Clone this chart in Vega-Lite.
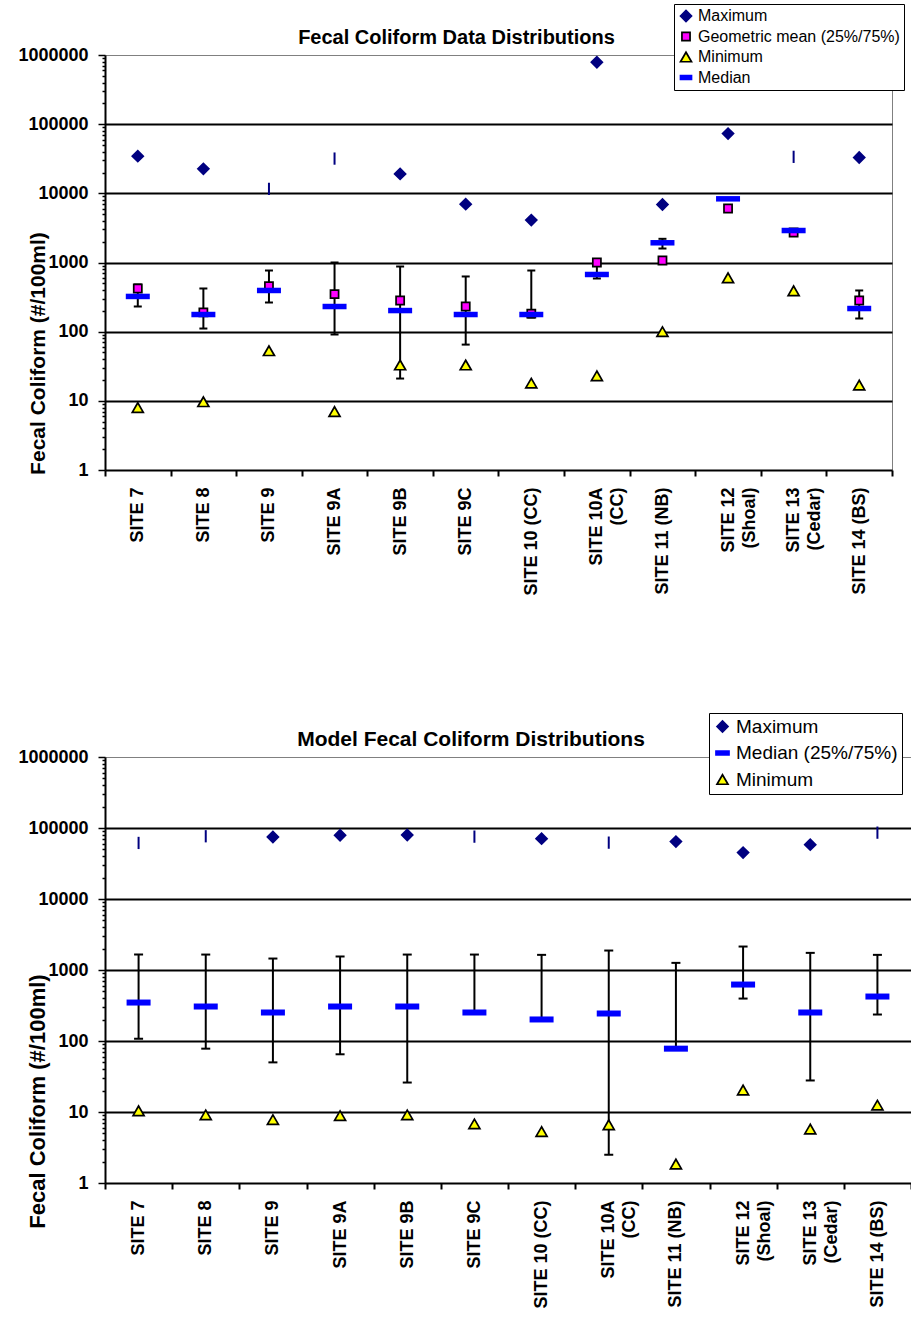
{
  "$schema": "https://vega.github.io/schema/vega-lite/v6.json",
  "padding": {"left": 17, "top": 3, "right": 0, "bottom": 0},
  "bounds": "flush",
  "spacing": 287,
  "background": "white",
  "config": {
    "view": {"stroke": "#808080", "strokeWidth": 1},
    "axis": {"domainColor": "black", "tickColor": "black", "labelColor": "black", "titleColor": "black", "labelFont": "Liberation Sans", "titleFont": "Liberation Sans", "labelFontWeight": "bold", "titleFontWeight": "bold"},
    "title": {"font": "Liberation Sans", "fontWeight": "bold", "color": "black"},
    "legend": {"labelFont": "Liberation Sans", "labelColor": "black", "labelLimit": 400}
  },
  "resolve": {
    "scale": {"x": "independent", "y": "independent", "fill": "independent", "shape": "independent", "stroke": "independent", "size": "independent"},
    "legend": {"fill": "independent", "shape": "independent", "stroke": "independent", "size": "independent"}
  },
  "datasets": {
    "observed": [
      {"site": "SITE 7", "max": 34500, "geomean": 421, "median": 323, "min": 8.0, "p25": 231, "p75": 480},
      {"site": "SITE 8", "max": 22600, "geomean": 190, "median": 177, "min": 9.7, "p25": 111, "p75": 421},
      {"site": "SITE 9", "max": 11600, "geomean": 456, "median": 394, "min": 53, "p25": 264, "p75": 766},
      {"site": "SITE 9A", "max": 31800, "geomean": 349, "median": 231, "min": 7.0, "p25": 91, "p75": 1000},
      {"site": "SITE 9B", "max": 19100, "geomean": 282, "median": 202, "min": 33, "p25": 21, "p75": 875},
      {"site": "SITE 9C", "max": 6980, "geomean": 231, "median": 177, "min": 33, "p25": 65, "p75": 628},
      {"site": "SITE 10 (CC)", "max": 4100, "geomean": 182, "median": 177, "min": 18, "p25": 160, "p75": 766},
      {"site": "SITE 10A (CC)", "max": 787000, "geomean": 1000, "median": 671, "min": 23, "p25": 587, "p75": 1000},
      {"site": "SITE 11 (NB)", "max": 6890, "geomean": 1069, "median": 1928, "min": 100, "p25": 1593, "p75": 2200},
      {"site": "SITE 12 (Shoal)", "max": 73100, "geomean": 6040, "median": 8330, "min": 601, "p25": null, "p75": null},
      {"site": "SITE 13 (Cedar)", "max": 33700, "geomean": 2715, "median": 2900, "min": 390, "p25": null, "p75": null},
      {"site": "SITE 14 (BS)", "max": 32900, "geomean": 282, "median": 216, "min": 16.9, "p25": 155, "p75": 394}
    ],
    "model": [
      {"site": "SITE 7", "max": 61600, "median": 348, "min": 10.4, "p25": 108, "p75": 1650},
      {"site": "SITE 8", "max": 76500, "median": 306, "min": 9.1, "p25": 78, "p75": 1650},
      {"site": "SITE 9", "max": 74800, "median": 252, "min": 7.8, "p25": 50, "p75": 1450},
      {"site": "SITE 9A", "max": 79000, "median": 306, "min": 8.9, "p25": 65, "p75": 1550},
      {"site": "SITE 9B", "max": 79800, "median": 306, "min": 9.1, "p25": 26, "p75": 1650},
      {"site": "SITE 9C", "max": 75600, "median": 252, "min": 6.8, "p25": 252, "p75": 1650},
      {"site": "SITE 10 (CC)", "max": 70800, "median": 201, "min": 5.3, "p25": 201, "p75": 1634},
      {"site": "SITE 10A (CC)", "max": 62200, "median": 244, "min": 6.6, "p25": 2.5, "p75": 1880},
      {"site": "SITE 11 (NB)", "max": 64300, "median": 78, "min": 1.85, "p25": 78, "p75": 1260},
      {"site": "SITE 12 (Shoal)", "max": 45000, "median": 624, "min": 20.4, "p25": 396, "p75": 2140},
      {"site": "SITE 13 (Cedar)", "max": 58300, "median": 252, "min": 5.75, "p25": 27.8, "p75": 1743},
      {"site": "SITE 14 (BS)", "max": 86000, "median": 423, "min": 12.5, "p25": 236, "p75": 1634}
    ]
  },
  "vconcat": [
    {
      "width": 787,
      "height": 415,
      "title": {"text": "Fecal Coliform Data Distributions", "fontSize": 20, "offset": 6, "dx": -42, "dy": 50, "anchor": "middle"},
      "data": {"name": "observed"},
      "encoding": {
        "x": {"field": "site", "type": "nominal", "sort": null,
          "scale": {"domain": ["SITE 7", "SITE 8", "SITE 9", "SITE 9A", "SITE 9B", "SITE 9C", "SITE 10 (CC)", "SITE 10A (CC)", "SITE 11 (NB)", "SITE 12 (Shoal)", "SITE 13 (Cedar)", "SITE 14 (BS)"], "paddingInner": 0, "paddingOuter": 0},
          "axis": {"title": null, "labelAngle": -90, "labelAlign": "right", "labelBaseline": "middle", "tickBand": "extent", "tickSize": 6, "tickWidth": 2, "domainWidth": 2, "labelFontSize": 18, "labelPadding": 11, "labelLineHeight": 21, "grid": false,
            "labelExpr": "indexof(['SITE 10A (CC)','SITE 12 (Shoal)','SITE 13 (Cedar)'], datum.label) >= 0 ? [slice(datum.label, 0, indexof(datum.label, ' (')), slice(datum.label, indexof(datum.label, ' (') + 1)] : datum.label"}
        }
      },
      "layer": [
        {
          "transform": [{"filter": "isValid(datum.p25)"}],
          "mark": {"type": "rule", "color": "black", "strokeWidth": 2},
          "encoding": {
            "y": {"field": "p25", "type": "quantitative", "scale": {"type": "log", "domain": [1, 1000000], "nice": false},
              "axis": {"title": "Fecal Coliform (#/100ml)", "titleFontSize": 21, "titleAngle": -90, "titleX": -61, "titleY": 298, "titleAlign": "center", "titleBaseline": "alphabetic",
                "values": [1,2,3,4,5,6,7,8,9,10,20,30,40,50,60,70,80,90,100,200,300,400,500,600,700,800,900,1000,2000,3000,4000,5000,6000,7000,8000,9000,10000,20000,30000,40000,50000,60000,70000,80000,90000,100000,200000,300000,400000,500000,600000,700000,800000,900000,1000000],
                "labelExpr": "indexof([1,10,100,1000,10000,100000,1000000], datum.value) >= 0 ? format(datum.value, 'd') : ''",
                "labelFontSize": 18, "labelPadding": 10, "domainWidth": 2,
                "tickSize": {"condition": {"test": "indexof([1,10,100,1000,10000,100000,1000000], datum.value) >= 0", "value": 7}, "value": 3},
                "tickWidth": 1.5,
                "grid": true, "gridColor": "black", "gridWidth": 2,
                "gridOpacity": {"condition": {"test": "indexof([10,100,1000,10000,100000], datum.value) >= 0", "value": 1}, "value": 0}}},
            "y2": {"field": "p75"}
          }
        },
        {
          "transform": [{"filter": "isValid(datum.p25)"}],
          "mark": {"type": "tick", "color": "black", "size": 8, "thickness": 2, "opacity": 1},
          "encoding": {"y": {"field": "p25", "type": "quantitative", "scale": {"type": "log", "domain": [1, 1000000], "nice": false}}}
        },
        {
          "transform": [{"filter": "isValid(datum.p75)"}],
          "mark": {"type": "tick", "color": "black", "size": 8, "thickness": 2, "opacity": 1},
          "encoding": {"y": {"field": "p75", "type": "quantitative", "scale": {"type": "log", "domain": [1, 1000000], "nice": false}}}
        },
        {
          "transform": [
            {"fold": ["max", "geomean", "min"], "as": ["series", "value"]},
            {"filter": "!(datum.series == 'max' && indexof(['SITE 9','SITE 9A','SITE 13 (Cedar)'], datum.site) >= 0)"}
          ],
          "mark": {"type": "point", "filled": true, "strokeWidth": 1.7, "opacity": 1},
          "encoding": {
            "y": {"field": "value", "type": "quantitative", "scale": {"type": "log", "domain": [1, 1000000], "nice": false}},
            "fill": {"field": "series", "type": "nominal", "scale": {"domain": ["max", "geomean", "min", "median"], "range": ["#000080", "#FF00FF", "#FFFF00", "#0000FF"]},
              "legend": {"title": null, "orient": "none", "legendX": 569, "legendY": -51, "direction": "vertical", "labelFontSize": 16, "padding": 4, "rowPadding": 3.5, "labelOffset": 4, "strokeColor": "black", "fillColor": "white", "symbolStrokeWidth": 1.7,
                "labelExpr": "datum.label == 'max' ? 'Maximum' : datum.label == 'geomean' ? 'Geometric mean (25%/75%)' : datum.label == 'min' ? 'Minimum' : 'Median'"}},
            "shape": {"field": "series", "type": "nominal", "scale": {"domain": ["max", "geomean", "min", "median"], "range": ["diamond", "square", "triangle-up", "M-1,-0.35H1V0.35H-1Z"]},
              "legend": {"title": null, "orient": "none", "legendX": 569, "legendY": -51, "direction": "vertical", "labelFontSize": 16, "padding": 4, "rowPadding": 3.5, "labelOffset": 4, "strokeColor": "black", "fillColor": "white", "symbolStrokeWidth": 1.7,
                "labelExpr": "datum.label == 'max' ? 'Maximum' : datum.label == 'geomean' ? 'Geometric mean (25%/75%)' : datum.label == 'min' ? 'Minimum' : 'Median'"}},
            "stroke": {"field": "series", "type": "nominal", "scale": {"domain": ["max", "geomean", "min", "median"], "range": ["#000080", "black", "black", "#0000FF"]},
              "legend": {"title": null, "orient": "none", "legendX": 569, "legendY": -51, "direction": "vertical", "labelFontSize": 16, "padding": 4, "rowPadding": 3.5, "labelOffset": 4, "strokeColor": "black", "fillColor": "white", "symbolStrokeWidth": 1.7,
                "labelExpr": "datum.label == 'max' ? 'Maximum' : datum.label == 'geomean' ? 'Geometric mean (25%/75%)' : datum.label == 'min' ? 'Minimum' : 'Median'"}},
            "size": {"field": "series", "type": "nominal", "scale": {"type": "ordinal", "domain": ["max", "geomean", "min", "median"], "range": [121, 66, 121, 121]},
              "legend": {"title": null, "orient": "none", "legendX": 569, "legendY": -51, "direction": "vertical", "labelFontSize": 16, "padding": 4, "rowPadding": 3.5, "labelOffset": 4, "strokeColor": "black", "fillColor": "white", "symbolStrokeWidth": 1.7,
                "labelExpr": "datum.label == 'max' ? 'Maximum' : datum.label == 'geomean' ? 'Geometric mean (25%/75%)' : datum.label == 'min' ? 'Minimum' : 'Median'"}}
          }
        },
        {
          "transform": [{"filter": "indexof(['SITE 9','SITE 9A','SITE 13 (Cedar)'], datum.site) >= 0"}],
          "mark": {"type": "point", "shape": "stroke", "angle": 90, "size": 150, "filled": false, "color": "#000080", "strokeWidth": 2, "opacity": 1},
          "encoding": {"y": {"field": "max", "type": "quantitative", "scale": {"type": "log", "domain": [1, 1000000], "nice": false}}}
        },
        {
          "transform": [{"fold": ["median"], "as": ["series", "value"]}],
          "mark": {"type": "tick", "size": 24, "thickness": 5.5, "opacity": 1},
          "encoding": {
            "y": {"field": "value", "type": "quantitative", "scale": {"type": "log", "domain": [1, 1000000], "nice": false}},
            "fill": {"field": "series", "type": "nominal", "scale": {"domain": ["max", "geomean", "min", "median"], "range": ["#000080", "#FF00FF", "#FFFF00", "#0000FF"]},
              "legend": {"title": null, "orient": "none", "legendX": 569, "legendY": -51, "direction": "vertical", "labelFontSize": 16, "padding": 4, "rowPadding": 3.5, "labelOffset": 4, "strokeColor": "black", "fillColor": "white", "symbolStrokeWidth": 1.7,
                "labelExpr": "datum.label == 'max' ? 'Maximum' : datum.label == 'geomean' ? 'Geometric mean (25%/75%)' : datum.label == 'min' ? 'Minimum' : 'Median'"}}
          }
        }
      ]
    },
    {
      "width": 806,
      "height": 426,
      "title": {"text": "Model Fecal Coliform Distributions", "fontSize": 21, "offset": 6, "dx": -37, "dy": 43, "anchor": "middle"},
      "data": {"name": "model"},
      "encoding": {
        "x": {"field": "site", "type": "nominal", "sort": null,
          "scale": {"domain": ["SITE 7", "SITE 8", "SITE 9", "SITE 9A", "SITE 9B", "SITE 9C", "SITE 10 (CC)", "SITE 10A (CC)", "SITE 11 (NB)", "SITE 12 (Shoal)", "SITE 13 (Cedar)", "SITE 14 (BS)"], "paddingInner": 0, "paddingOuter": 0},
          "axis": {"title": null, "labelAngle": -90, "labelAlign": "right", "labelBaseline": "middle", "tickBand": "extent", "tickSize": 6, "tickWidth": 2, "domainWidth": 2, "labelFontSize": 18, "labelPadding": 11, "labelLineHeight": 21, "grid": false,
            "labelExpr": "indexof(['SITE 10A (CC)','SITE 12 (Shoal)','SITE 13 (Cedar)'], datum.label) >= 0 ? [slice(datum.label, 0, indexof(datum.label, ' (')), slice(datum.label, indexof(datum.label, ' (') + 1)] : datum.label"}
        }
      },
      "layer": [
        {
          "mark": {"type": "rule", "color": "black", "strokeWidth": 2},
          "encoding": {
            "y": {"field": "p25", "type": "quantitative", "scale": {"type": "log", "domain": [1, 1000000], "nice": false},
              "axis": {"title": "Fecal Coliform (#/100ml)", "titleFontSize": 22, "titleAngle": -90, "titleX": -61, "titleY": 344, "titleAlign": "center", "titleBaseline": "alphabetic",
                "values": [1,2,3,4,5,6,7,8,9,10,20,30,40,50,60,70,80,90,100,200,300,400,500,600,700,800,900,1000,2000,3000,4000,5000,6000,7000,8000,9000,10000,20000,30000,40000,50000,60000,70000,80000,90000,100000,200000,300000,400000,500000,600000,700000,800000,900000,1000000],
                "labelExpr": "indexof([1,10,100,1000,10000,100000,1000000], datum.value) >= 0 ? format(datum.value, 'd') : ''",
                "labelFontSize": 18, "labelPadding": 10, "domainWidth": 2,
                "tickSize": {"condition": {"test": "indexof([1,10,100,1000,10000,100000,1000000], datum.value) >= 0", "value": 7}, "value": 3},
                "tickWidth": 1.5,
                "grid": true, "gridColor": "black", "gridWidth": 2,
                "gridOpacity": {"condition": {"test": "indexof([10,100,1000,10000,100000], datum.value) >= 0", "value": 1}, "value": 0}}},
            "y2": {"field": "p75"}
          }
        },
        {
          "mark": {"type": "tick", "color": "black", "size": 9, "thickness": 2, "opacity": 1},
          "encoding": {"y": {"field": "p25", "type": "quantitative", "scale": {"type": "log", "domain": [1, 1000000], "nice": false}}}
        },
        {
          "mark": {"type": "tick", "color": "black", "size": 9, "thickness": 2, "opacity": 1},
          "encoding": {"y": {"field": "p75", "type": "quantitative", "scale": {"type": "log", "domain": [1, 1000000], "nice": false}}}
        },
        {
          "transform": [
            {"fold": ["max", "min"], "as": ["series", "value"]},
            {"filter": "!(datum.series == 'max' && indexof(['SITE 7','SITE 8','SITE 9C','SITE 10A (CC)','SITE 14 (BS)'], datum.site) >= 0)"}
          ],
          "mark": {"type": "point", "filled": true, "strokeWidth": 1.7, "opacity": 1},
          "encoding": {
            "y": {"field": "value", "type": "quantitative", "scale": {"type": "log", "domain": [1, 1000000], "nice": false}},
            "fill": {"field": "series", "type": "nominal", "scale": {"domain": ["max", "median", "min"], "range": ["#000080", "#0000FF", "#FFFF00"]},
              "legend": {"title": null, "orient": "none", "legendX": 604, "legendY": -44, "direction": "vertical", "labelFontSize": 19, "padding": 4, "rowPadding": 6.5, "labelOffset": 4, "strokeColor": "black", "fillColor": "white", "symbolStrokeWidth": 1.7,
                "labelExpr": "datum.label == 'max' ? 'Maximum' : datum.label == 'median' ? 'Median (25%/75%)' : 'Minimum'"}},
            "shape": {"field": "series", "type": "nominal", "scale": {"domain": ["max", "median", "min"], "range": ["diamond", "M-1,-0.3H1V0.3H-1Z", "triangle-up"]},
              "legend": {"title": null, "orient": "none", "legendX": 604, "legendY": -44, "direction": "vertical", "labelFontSize": 19, "padding": 4, "rowPadding": 6.5, "labelOffset": 4, "strokeColor": "black", "fillColor": "white", "symbolStrokeWidth": 1.7,
                "labelExpr": "datum.label == 'max' ? 'Maximum' : datum.label == 'median' ? 'Median (25%/75%)' : 'Minimum'"}},
            "stroke": {"field": "series", "type": "nominal", "scale": {"domain": ["max", "median", "min"], "range": ["#000080", "#0000FF", "black"]},
              "legend": {"title": null, "orient": "none", "legendX": 604, "legendY": -44, "direction": "vertical", "labelFontSize": 19, "padding": 4, "rowPadding": 6.5, "labelOffset": 4, "strokeColor": "black", "fillColor": "white", "symbolStrokeWidth": 1.7,
                "labelExpr": "datum.label == 'max' ? 'Maximum' : datum.label == 'median' ? 'Median (25%/75%)' : 'Minimum'"}},
            "size": {"field": "series", "type": "nominal", "scale": {"type": "ordinal", "domain": ["max", "median", "min"], "range": [121, 169, 121]},
              "legend": {"title": null, "orient": "none", "legendX": 604, "legendY": -44, "direction": "vertical", "labelFontSize": 19, "padding": 4, "rowPadding": 6.5, "labelOffset": 4, "strokeColor": "black", "fillColor": "white", "symbolStrokeWidth": 1.7,
                "labelExpr": "datum.label == 'max' ? 'Maximum' : datum.label == 'median' ? 'Median (25%/75%)' : 'Minimum'"}}
          }
        },
        {
          "transform": [{"filter": "indexof(['SITE 7','SITE 8','SITE 9C','SITE 10A (CC)','SITE 14 (BS)'], datum.site) >= 0"}],
          "mark": {"type": "point", "shape": "stroke", "angle": 90, "size": 150, "filled": false, "color": "#000080", "strokeWidth": 2, "opacity": 1},
          "encoding": {"y": {"field": "max", "type": "quantitative", "scale": {"type": "log", "domain": [1, 1000000], "nice": false}}}
        },
        {
          "transform": [{"fold": ["median"], "as": ["series", "value"]}],
          "mark": {"type": "tick", "size": 24, "thickness": 6, "opacity": 1},
          "encoding": {
            "y": {"field": "value", "type": "quantitative", "scale": {"type": "log", "domain": [1, 1000000], "nice": false}},
            "fill": {"field": "series", "type": "nominal", "scale": {"domain": ["max", "median", "min"], "range": ["#000080", "#0000FF", "#FFFF00"]},
              "legend": {"title": null, "orient": "none", "legendX": 604, "legendY": -44, "direction": "vertical", "labelFontSize": 19, "padding": 4, "rowPadding": 6.5, "labelOffset": 4, "strokeColor": "black", "fillColor": "white", "symbolStrokeWidth": 1.7,
                "labelExpr": "datum.label == 'max' ? 'Maximum' : datum.label == 'median' ? 'Median (25%/75%)' : 'Minimum'"}}
          }
        }
      ]
    }
  ]
}
